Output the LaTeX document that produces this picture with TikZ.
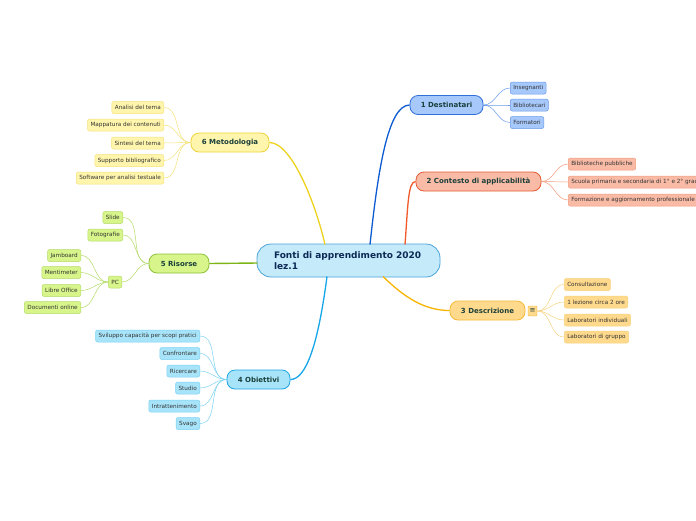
\documentclass[tikz,border=0pt]{standalone}
\usepackage{fontspec}
\setmainfont{DejaVu Sans}
\definecolor{cenfill}{HTML}{C5EBFB}\definecolor{cendraw}{HTML}{4BA3D9}
\definecolor{bt}{HTML}{1B3F3A}\definecolor{lt}{HTML}{333333}\definecolor{ct}{HTML}{0C2A55}
\definecolor{dfill}{HTML}{A6C8FB}\definecolor{ddraw}{HTML}{2E6FD9}\definecolor{dline}{HTML}{0D5BD1}\definecolor{dleaf}{HTML}{6A9BEA}
\definecolor{kfill}{HTML}{F9BBA6}\definecolor{kdraw}{HTML}{E45B34}\definecolor{kline}{HTML}{F05A28}\definecolor{kleaf}{HTML}{F29A7C}
\definecolor{sfill}{HTML}{FFD98C}\definecolor{sdraw}{HTML}{F4BA3A}\definecolor{sline}{HTML}{F7B400}\definecolor{sleaf}{HTML}{F6D27E}
\definecolor{ofill}{HTML}{A8E4F9}\definecolor{odraw}{HTML}{1BA5E3}\definecolor{oline}{HTML}{16A6EA}\definecolor{oleaf}{HTML}{7CD2F3}
\definecolor{rfill}{HTML}{D7F58A}\definecolor{rdraw}{HTML}{8DC13A}\definecolor{rline}{HTML}{7DB418}\definecolor{rleaf}{HTML}{B5DB6A}
\definecolor{mfill}{HTML}{FFF5AC}\definecolor{mdraw}{HTML}{EED43A}\definecolor{mline}{HTML}{EDD21F}\definecolor{mleaf}{HTML}{F5E27A}
\begin{document}
\begin{tikzpicture}[x=1pt,y=-1pt,
  central/.style={draw=cendraw,fill=cenfill,line width=0.8pt,rounded corners=14pt,minimum width=183pt,minimum height=33pt,text width=149pt,inner xsep=17pt,align=left,font=\fontsize{9}{11}\selectfont\bfseries,text=ct},
  branch/.style={draw=#1draw,fill=#1fill,line width=0.8pt,rounded corners=8pt,minimum height=19pt,inner sep=0pt,font=\fontsize{7}{8}\selectfont\bfseries,text=bt},
  leaf/.style={draw=#1leaf,fill=#1fill,line width=0.5pt,rounded corners=2pt,minimum height=12pt,inner xsep=3pt,inner ysep=0pt,font=\fontsize{5.7}{6}\selectfont,text=lt},
  main/.style={line width=1.3pt},
  sub/.style={line width=0.5pt,draw=#1leaf}
]
\useasboundingbox (0,0) rectangle (696,520);
\fill[white] (0,0) rectangle (696,520);

% central
\node[central] (c) at (348.5,260.5) {Fonti di apprendimento 2020\\lez.1};

% branches
\node[branch=d,minimum width=73pt] (b1) at (446.5,105) {1 Destinatari};
\node[branch=k,minimum width=125pt] (b2) at (478.5,181.5) {2 Contesto di applicabilità};
\node[branch=s,minimum width=75pt] (b3) at (487.5,310.5) {3 Descrizione};
\node[branch=o,minimum width=63pt] (b4) at (258.5,379.5) {4 Obiettivi};
\node[branch=r,minimum width=60pt] (b5) at (179,263.5) {5 Risorse};
\node[branch=m,minimum width=78pt] (b6) at (230,142.5) {6 Metodologia};

% connector start points on central box
\coordinate (c1) at (370,244.5);
\coordinate (c2) at (405,244.5);
\coordinate (c3) at (383,276.5);
\coordinate (c4) at (327,276.5);
\coordinate (c5) at (257.5,263);
\coordinate (c6) at (325,244.5);

\draw[main,dline] (c1) .. controls (378,170) and (388,105) .. (b1.west);
\draw[main,kline] (c2) .. controls (408,205) and (408,181.5) .. (b2.west);
\draw[main,sline] (c3) .. controls (405,298) and (425,310.5) .. (b3.west);
\draw[main,oline] (c4) .. controls (318,345) and (306,379.5) .. (b4.east);
\draw[line width=1.4pt,rline] (c5) -- (b5.east);
\draw[main,mline] (c6) .. controls (316,205) and (292,142.5) .. (b6.east);

% 1 Destinatari leaves
\node[leaf=d,anchor=west] (d1) at (510,88) {Insegnanti};
\node[leaf=d,anchor=west] (d2) at (510,105) {Bibliotecari};
\node[leaf=d,anchor=west] (d3) at (510,122.5) {Formatori};
\foreach \n in {d1,d2,d3} \draw[sub=d] (b1.east) to[out=0,in=180] (\n.west);

% 2 Contesto leaves
\node[leaf=k,anchor=west] (k1) at (568,164) {Biblioteche pubbliche};
\node[leaf=k,anchor=west] (k2) at (568,182) {Scuola primaria e secondaria di 1° e 2° grado};
\node[leaf=k,anchor=west] (k3) at (568,200) {Formazione e aggiornamento professionale};
\foreach \n in {k1,k2,k3} \draw[sub=k] (b2.east) to[out=0,in=180] (\n.west);

% 3 Descrizione
\node[draw=sdraw,fill=sfill,line width=0.4pt,rounded corners=1pt,minimum width=9pt,minimum height=10pt,inner sep=0pt,font=\fontsize{7}{7}\selectfont,text=bt] (ic) at (532.5,311) {≡};
\node[leaf=s,anchor=west] (s1) at (564,284.5) {Consultazione};
\node[leaf=s,anchor=west] (s2) at (564,302) {1 lezione circa 2 ore};
\node[leaf=s,anchor=west] (s3) at (564,320) {Laboratori individuali};
\node[leaf=s,anchor=west] (s4) at (564,337) {Laboratori di gruppo};
\foreach \n in {s1,s2,s3,s4} \draw[sub=s] (ic.east) to[out=0,in=180] (\n.west);

% 4 Obiettivi
\node[leaf=o,anchor=east] (o1) at (200,336) {Sviluppo capacità per scopi pratici};
\node[leaf=o,anchor=east] (o2) at (200,353.5) {Confrontare};
\node[leaf=o,anchor=east] (o3) at (200,371) {Ricercare};
\node[leaf=o,anchor=east] (o4) at (200,388) {Studio};
\node[leaf=o,anchor=east] (o5) at (200,406) {Intrattenimento};
\node[leaf=o,anchor=east] (o6) at (200,423.5) {Svago};
\foreach \n in {o1,o2,o3,o4,o5,o6} \draw[sub=o] (b4.west) to[out=180,in=0] (\n.east);

% 5 Risorse
\node[leaf=r,anchor=east] (r1) at (123,217.5) {Slide};
\node[leaf=r,anchor=east] (r2) at (123,235) {Fotografie};
\node[leaf=r,anchor=east] (r3) at (122,282) {PC};
\foreach \n in {r1,r2,r3} \draw[sub=r] (b5.west) to[out=180,in=0] (\n.east);
\node[leaf=r,anchor=east] (p1) at (81,255.5) {Jamboard};
\node[leaf=r,anchor=east] (p2) at (81,272.5) {Mentimeter};
\node[leaf=r,anchor=east] (p3) at (81,290.5) {Libre Office};
\node[leaf=r,anchor=east] (p4) at (81,307.5) {Documenti online};
\foreach \n in {p1,p2,p3,p4} \draw[sub=r] (r3.west) to[out=180,in=0] (\n.east);

% 6 Metodologia
\node[leaf=m,anchor=east] (m1) at (164,107.5) {Analisi del tema};
\node[leaf=m,anchor=east] (m2) at (164,125) {Mappatura dei contenuti};
\node[leaf=m,anchor=east] (m3) at (164,143) {Sintesi del tema};
\node[leaf=m,anchor=east] (m4) at (164,160.5) {Supporto bibliografico};
\node[leaf=m,anchor=east] (m5) at (164,178) {Software per analisi testuale};
\foreach \n in {m1,m2,m3,m4,m5} \draw[sub=m] (b6.west) to[out=180,in=0] (\n.east);
\end{tikzpicture}
\end{document}
